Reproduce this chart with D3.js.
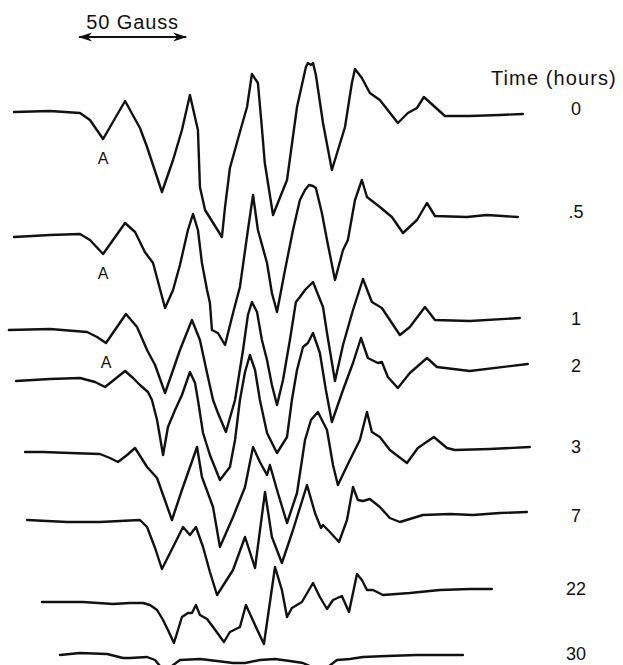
<!DOCTYPE html>
<html>
<head>
<meta charset="utf-8">
<script src="https://cdn.jsdelivr.net/npm/d3@7"></script>
<style>
    body { margin: 0; background: #fff; }
    svg { display: block; }
    text { font-family: "Liberation Sans", Arial, Helvetica, sans-serif; fill: #111; }
    .trace { fill: none; stroke: #111; stroke-width: 2.4; stroke-linejoin: round; stroke-linecap: round; }
</style>
</head>
<body>
<div id="chart"></div>
<script>
// EPR derivative spectra.
// each point: [field offset in gauss from start of sweep, signal in a.u.]
const timeLabels = ["0", ".5", "1", "2", "3", "7", "22", "30"];

const spectrum0 = [
    [0, 0], [16.2, 1], [29.7, -1], [34.2, -8], [40.1, -27], [50.0, 11], [56.7, -16], [59.9, -35],
    [66.6, -80], [71.6, -48], [75.6, -18], [79.2, 17], [82.8, -18], [83.7, -75], [86.0, -98],
    [93.6, -125], [95.0, -95], [97.2, -56], [101.7, -20], [104.9, 5], [107.1, 38], [109.8, 29],
    [111.6, -16], [112.9, -51], [116.6, -103], [122.9, -68], [127.4, 5], [131.4, 45], [132.3, 49],
    [133.7, 47], [134.6, 49], [135.9, 37], [139.1, -11], [143.1, -58], [149.0, -15], [152.1, 29],
    [153.5, 43], [156.6, 34], [160.2, 19], [164.7, 12], [172.8, -11], [177.3, -1], [181.4, 4],
    [184.5, 15], [194.0, -4], [205.2, -4], [218.7, -3], [229.1, -2]
];
const spectrum05 = [
    [0, -1], [16.2, 1], [29.7, 2], [34.2, -4], [40.1, -18], [50.0, 13], [54.5, 4], [58.9, -16],
    [62.6, -27], [68.0, -72], [71.6, -54], [74.7, -29], [78.3, 6], [80.6, 22], [82.8, 6], [84.6, -27],
    [86.9, -54], [88.2, -67], [89.1, -94], [91.8, -97], [95.0, -109], [98.6, -77], [101.7, -51],
    [105.3, 6], [107.6, 41], [109.8, 6], [113.9, -27], [116.1, -57], [118.4, -76], [122.0, -34],
    [125.6, 6], [128.7, 36], [131.0, 46], [132.8, 51], [134.6, 50], [135.9, 48], [138.6, 23],
    [140.9, -4], [144.5, -44], [148.1, -14], [150.3, -4], [153.5, 36], [156.6, 56], [158.9, 39],
    [164.7, 29], [170.1, 19], [175.1, 3], [181.4, 16], [185.9, 33], [189.5, 20], [203.9, 19],
    [212.9, 21], [226.8, 19]
];
const spectrum1 = [
    [-2.3, 0], [16.2, 1], [32.9, -2], [37.4, -7], [41.4, -13], [50.4, 16], [55.4, 3], [59.9, -20],
    [63.5, -35], [68.0, -63], [71.6, -40], [74.7, -20], [80.1, 10], [83.7, -10], [86.9, -43],
    [89.6, -70], [91.8, -83], [95.4, -102], [99.5, -70], [103.1, -20], [105.3, 15], [107.1, 28],
    [109.4, 18], [111.6, -10], [113.9, -30], [116.1, -55], [118.4, -75], [121.1, -50], [124.2, -10],
    [126.9, 28], [128.7, 33], [131.0, 40], [134.6, 48], [139.1, 23], [140.9, -3], [144.5, -51],
    [148.1, -15], [152.6, 20], [157.1, 51], [161.1, 28], [165.6, 22], [173.7, -5], [178.2, 3],
    [185.0, 23], [189.5, 10], [205.2, 9], [227.7, 12]
];
const spectrum2 = [
    [0.9, -1], [16.2, 1], [29.7, 2], [36.5, -2], [41.0, -7], [50.0, 9], [53.6, 2], [56.7, -5],
    [60.3, -12], [62.1, -20], [64.4, -40], [67.1, -75], [69.3, -47], [72.5, -30], [75.6, -15],
    [79.2, 8], [81.5, -3], [82.8, -20], [85.1, -53], [88.2, -75], [92.7, -100], [97.2, -87],
    [99.5, -60], [101.7, -20], [104.0, 8], [106.2, 25], [108.5, 10], [110.7, -20], [113.9, -53],
    [118.4, -73], [122.9, -57], [125.1, -20], [127.4, 10], [130.1, 33], [132.3, 37], [134.6, 47],
    [137.7, 27], [140.4, -10], [143.1, -42], [148.1, -10], [152.6, 17], [156.2, 42], [159.3, 22],
    [163.8, 17], [165.6, 18], [168.3, 3], [172.8, -8], [178.2, 7], [185.9, 22], [190.4, 13],
    [205.2, 9], [231.3, 16]
];
const spectrum3 = [
    [5.0, 1], [13.1, 1], [25.2, 0], [38.7, -1], [43.2, -5], [46.8, -9], [50.9, -2], [54.5, 5],
    [59.9, -14], [64.4, -25], [67.1, -42], [71.1, -67], [75.6, -37], [82.4, 6], [84.6, -24],
    [89.6, -54], [92.7, -94], [98.6, -64], [104.0, -34], [107.6, 6], [110.7, -9], [113.9, -22],
    [115.2, -12], [118.8, -40], [122.9, -70], [127.4, -40], [131.0, 13], [133.7, 33], [136.8, 41],
    [140.9, 23], [143.6, -12], [145.8, -32], [151.2, -7], [155.7, 13], [158.9, 41], [161.1, 21],
    [164.7, 16], [169.2, 3], [176.9, -10], [181.8, 5], [189.0, 16], [194.9, 5], [198.5, 3],
    [214.2, 4], [232.2, 6]
];
const spectrum7 = [
    [5.9, 1], [23.9, -1], [38.7, -1], [56.7, 1], [59.9, -6], [63.5, -27], [66.6, -48], [71.6, -26],
    [76.1, -6], [79.2, -14], [81.9, -6], [85.1, -26], [88.2, -51], [91.4, -74], [98.6, -49],
    [104.0, -16], [108.5, -47], [113.0, 29], [116.1, -16], [120.6, -42], [125.6, -9], [131.9, 36],
    [135.5, 8], [138.2, -7], [139.1, -4], [142.2, -11], [146.3, -21], [149.9, 1], [152.6, 34],
    [154.8, 21], [157.1, 20], [160.2, 22], [164.7, 14], [169.2, 3], [173.7, -1], [184.1, 6],
    [196.2, 7], [206.6, 6], [218.7, 8], [230.9, 9]
];
const spectrum22 = [
    [12.6, 1], [31.1, 1], [44.6, -1], [52.2, 0], [58.1, 0], [61.2, -2], [64.4, -7], [67.1, -17],
    [69.3, -27], [72.0, -40], [75.6, -14], [78.3, -10], [80.1, -10], [81.9, -2], [83.7, -12],
    [86.9, -16], [89.6, -24], [94.5, -39], [97.2, -29], [101.7, -24], [104.4, -2], [108.5, -22],
    [112.5, -41], [117.5, 36], [120.6, 13], [122.9, -14], [125.1, -5], [129.6, 1], [134.6, 20],
    [137.7, 6], [140.9, -6], [143.6, 3], [147.6, 7], [150.8, -9], [154.4, 29], [156.6, 23],
    [158.9, 13], [161.6, 13], [166.1, 8], [178.2, 10], [191.7, 13], [205.2, 14], [215.1, 14]
];
const spectrum30 = [
    [20.7, 1], [29.7, 3], [41.9, 2], [49.1, -2], [52.2, -2], [59.9, -1], [63.5, -4], [65.7, -10],
    [68.4, -14], [71.1, -10], [74.7, -4], [83.7, -3], [91.4, -5], [98.6, -7], [104.0, -7],
    [110.7, -4], [117.5, -3], [124.2, -5], [130.1, -7], [134.1, -11], [137.7, -14], [141.3, -11],
    [145.4, -4], [151.2, -3], [157.1, -1], [167.9, 0], [181.4, 1], [202.1, 1]
];

const spectra = [spectrum0, spectrum05, spectrum1, spectrum2, spectrum3, spectrum7, spectrum22, spectrum30];
const markedTraces = [0, 1, 2];   // traces where line A is labelled
const scaleBarGauss = 50;
const scaleBarStart = 28.4;

class StackedSpectra {
    constructor(_config, _data) {
        this.config = {
            parentElement: _config.parentElement,
            containerWidth: _config.containerWidth || 623,
            containerHeight: _config.containerHeight || 665,
            fieldRange: _config.fieldRange || [14, 636],
            baselines: _config.baselines,
            labelBaselines: _config.labelBaselines,
            labelX: _config.labelX || 576,
        };
        this.data = _data;
        this.initVis();
    }

    initVis() {
        let vis = this;

        vis.svg = d3.select(vis.config.parentElement)
            .append("svg")
            .attr("width", vis.config.containerWidth)
            .attr("height", vis.config.containerHeight);

        vis.xScale = d3.scaleLinear().domain([0, 280]).range(vis.config.fieldRange);
        vis.yScale = d3.scaleLinear().domain([-100, 100]).range([100, -100]);

        const defs = vis.svg.append("defs");
        ["start", "end"].forEach((k) => {
            defs.append("marker")
                .attr("id", `arrow-${k}`)
                .attr("viewBox", "0 0 14 10")
                .attr("refX", 13)
                .attr("refY", 5)
                .attr("markerWidth", 14)
                .attr("markerHeight", 10)
                .attr("markerUnits", "userSpaceOnUse")
                .attr("orient", "auto-start-reverse")
                .append("path")
                .attr("d", "M0,0.5 L14,5 L0,9.5 L4,5 Z")
                .attr("fill", "#111");
        });

        vis.updateVis();
    }

    updateVis() {
        let vis = this;

        const line = d3.line()
            .x((d) => vis.xScale(d[0]))
            .y((d) => vis.yScale(d[1]));

        const traces = vis.svg.selectAll(".trace-group")
            .data(vis.data)
            .join("g")
            .attr("class", "trace-group")
            .attr("transform", (d, i) => `translate(0,${vis.config.baselines[i]})`);

        traces.append("path")
            .attr("class", "trace")
            .attr("d", line);

        // "A" marks the first low-field dip
        traces.filter((d, i) => markedTraces.includes(i))
            .append("text")
            .each(function (d) {
                const dip = d3.least(d.filter((p) => p[0] > 30 && p[0] < 46), (p) => p[1]);
                d3.select(this)
                    .attr("x", vis.xScale(dip[0]))
                    .attr("y", vis.yScale(dip[1]) + 25)
                    .attr("text-anchor", "middle")
                    .style("font-size", "16px")
                    .text("A");
            });

        vis.svg.selectAll(".time-label")
            .data(timeLabels)
            .join("text")
            .attr("class", "time-label")
            .attr("x", vis.config.labelX)
            .attr("y", (d, i) => vis.config.labelBaselines[i])
            .attr("text-anchor", "middle")
            .style("font-size", "18px")
            .text((d) => d);

        vis.svg.append("text")
            .attr("x", 491)
            .attr("y", 85)
            .style("font-size", "20px")
            .style("letter-spacing", "1.1px")
            .text("Time (hours)");

        // 50 gauss scale bar
        const x0 = vis.xScale(scaleBarStart);
        const x1 = vis.xScale(scaleBarStart + scaleBarGauss);
        vis.svg.append("line")
            .attr("x1", x0 + 2)
            .attr("x2", x1 - 2)
            .attr("y1", 37)
            .attr("y2", 37)
            .attr("stroke", "#111")
            .attr("stroke-width", 2)
            .attr("marker-start", "url(#arrow-start)")
            .attr("marker-end", "url(#arrow-end)");

        vis.svg.append("text")
            .attr("x", (x0 + x1) / 2)
            .attr("y", 29)
            .attr("text-anchor", "middle")
            .style("font-size", "20px")
            .style("letter-spacing", "0.9px")
            .text(`${scaleBarGauss} Gauss`);
    }
}

new StackedSpectra({
    parentElement: "#chart",
    baselines: [112, 236, 330, 380, 453, 521, 603, 656],
    labelBaselines: [115, 218, 325, 372, 453, 522, 595, 660],
}, spectra);
</script>
</body>
</html>
